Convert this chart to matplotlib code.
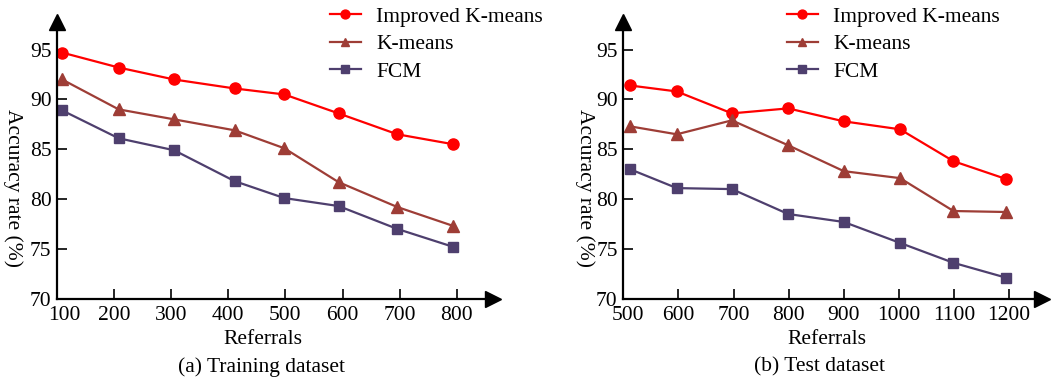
import matplotlib.pyplot as plt
from matplotlib.transforms import ScaledTranslation

plt.rcParams['font.family'] = ['Liberation Serif', 'DejaVu Serif']

# (a) training dataset
x_train = [109, 208, 305, 411, 498, 593, 696, 794]
train_improved = [94.7, 93.2, 92.0, 91.1, 90.5, 88.6, 86.5, 85.5]
train_kmeans = [92.0, 89.0, 88.0, 86.9, 85.1, 81.7, 79.2, 77.3]
train_fcm = [88.9, 86.1, 84.9, 81.8, 80.1, 79.3, 77.0, 75.2]
ticks_train = [100, 200, 300, 400, 500, 600, 700, 800]

# (b) test dataset
x_test = [512, 597, 697, 799, 900, 1002, 1099, 1195]
test_improved = [91.4, 90.8, 88.6, 89.1, 87.8, 87.0, 83.8, 82.0]
test_kmeans = [87.3, 86.5, 87.9, 85.4, 82.8, 82.1, 78.8, 78.7]
test_fcm = [83.0, 81.1, 81.0, 78.5, 77.7, 75.6, 73.6, 72.1]
ticks_test = [500, 600, 700, 800, 900, 1000, 1100, 1200]

yticks = [70, 75, 80, 85, 90, 95]
labels = ["Improved K-means", "K-means", "FCM"]
red = "#FF0000"
brown = "#9E3D36"
purple = "#4E3F6E"
fs = 15.5

W, H = 1062, 383
fig = plt.figure(figsize=(W / 100, H / 100), dpi=100)

ax1 = fig.add_axes([57 / W, 1 - 298.7 / H, 435.7 / W, 277 / H])
ax2 = fig.add_axes([623.3 / W, 1 - 298.7 / H, 418.4 / W, 277 / H])

panels = [
    (ax1, x_train, train_improved, train_kmeans, train_fcm, ticks_train, (100, 863), 7),
    (ax2, x_test, test_improved, test_kmeans, test_fcm, ticks_test, (500, 1259), 5),
]

for ax, xs, a, b, c, xt, xl, shift in panels:
    ax.plot(xs, a, color=red, lw=1.6, marker="o", ms=8, label=labels[0])
    ax.plot(xs, b, color=brown, lw=1.6, marker="^", ms=8, label=labels[1])
    ax.plot(xs, c, color=purple, lw=1.6, marker="s", ms=7.5, label=labels[2])
    ax.set_xlim(*xl)
    ax.set_ylim(70, 97.8)
    ax.set_xticks(xt)
    ax.set_yticks(yticks)
    ax.tick_params(direction="in", length=7.5, width=1.2, labelsize=fs)
    ax.tick_params(axis="x", pad=5)
    ax.tick_params(axis="y", pad=4)
    for s in ["top", "right"]:
        ax.spines[s].set_visible(False)
    for s in ["left", "bottom"]:
        ax.spines[s].set_linewidth(1.6)
    ax.patch.set_alpha(0)
    # first x label sits a little right of the corner, as in the original
    lab = ax.get_xticklabels()[0]
    lab.set_transform(lab.get_transform() + ScaledTranslation(shift / 100, 0, fig.dpi_scale_trans))
    # arrow heads on the axes
    ax.plot(1, 0, marker=">", ms=11, color="black", transform=ax.transAxes, clip_on=False)
    ax.plot(0, 1, marker="^", ms=11, color="black", transform=ax.transAxes, clip_on=False)

fig.text(13.3 / W, 1 - 187.7 / H, "Accuracy rate (%)", rotation=-90, fontsize=fs,
         ha="center", va="center")
fig.text(585 / W, 1 - 187.7 / H, "Accuracy rate (%)", rotation=-90, fontsize=fs,
         ha="center", va="center")
fig.text(263 / W, 1 - 340 / H, "Referrals", fontsize=fs, ha="center", va="center")
fig.text(827 / W, 1 - 340 / H, "Referrals", fontsize=fs, ha="center", va="center")
fig.text(262 / W, 1 - 367 / H, "(a) Training dataset", fontsize=fs, ha="center", va="center")
fig.text(819 / W, 1 - 367 / H, "(b) Test dataset", fontsize=fs, ha="center", va="center")

for ax, lx in [(ax1, 318 / W), (ax2, 775 / W)]:
    ax.legend(loc="upper left", bbox_to_anchor=(lx, 1 + 5 / H), bbox_transform=fig.transFigure,
              frameon=False, fontsize=fs, handlelength=1.45, handletextpad=0.7,
              labelspacing=0.34, borderpad=0.05, markerscale=0.8)

fig.savefig("out.png", dpi=100)
